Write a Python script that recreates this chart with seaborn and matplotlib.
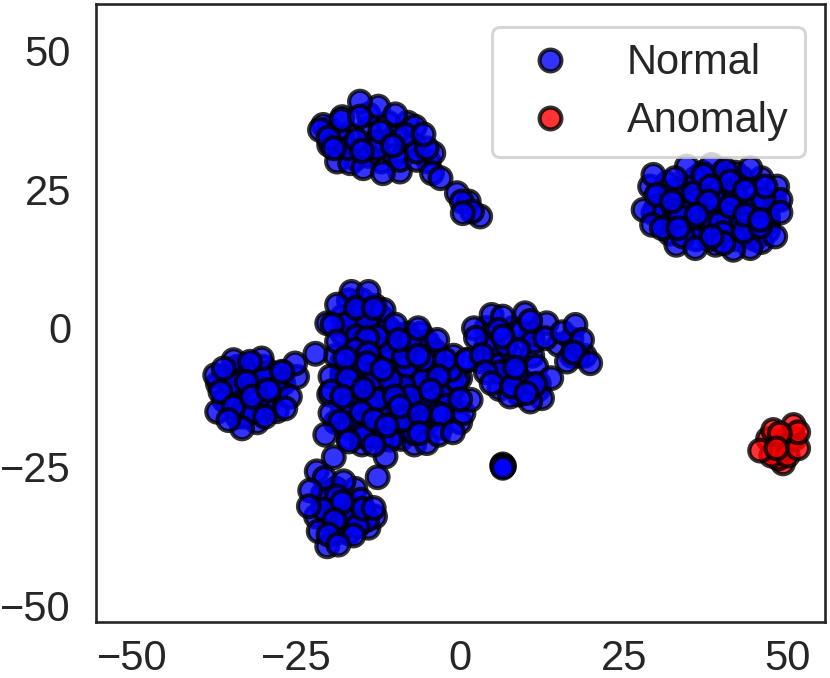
import matplotlib
matplotlib.use("Agg")
import pandas as pd
import seaborn as sns
import matplotlib.pyplot as plt

sns.set_theme(style="white")
plt.rcParams["font.family"] = ["Liberation Sans", "DejaVu Sans"]

# values, back points first
fill_x = [-34, -32, -30, -28, -36, -33, -31, -27, -35, -32, -29, -33, -30,
          -17, -15, -13, -17, -15, -12, -10, -8, -6, -4, -2, -16, -14, -12, -10, -8, -6, -4, -2, 0,
          -18, -15, -13, -11, -9, -7, -5, -3, -1, -17, -15, -13, -11, -9, -7, -4, -2, -16, -14, -10, -8, -6, -3,
          -19, -17, -15, -13, -11, -9, -7, -5, -20, -18, -16, -14, -12, -10, -8, -6, -17, -15, -13, -11, -9, -7,
          30, 33, 36, 39, 42, 45, 48, 31, 34, 37, 40, 43, 46, 32, 35, 38, 41, 44, 47, 33, 36, 39, 42, 45, 37, 40, 43,
          -21, -19, -17, -15, -20, -18, -16, -14, -19, -17,
          4, 6, 8, 3, 5, 7, 6, 8, 10, 12, 9, 11, 15, 17, 19]
fill_y = [-7, -6.5, -7, -9, -9, -9, -10, -8, -13, -11, -10, -14, -15,
          5, 5, 4, 0, 2, 2, -1, -1, -1, -4, -7, -3, -3, -4, -5, -6, -4, -7, -9, -9,
          -8, -9, -6, -8, -7, -8, -8, -10, -8, -12, -12, -11, -11, -11, -12, -10, -12, -15, -17, -14, -12, -15, -14,
          -17, -18, -15, -13, -13, -16, -16, -15, -12, -9, -10, -8, -10, -19, -18, -18, -20, -21, -19, -19, -20, -21,
          24, 25, 25, 25, 26, 25, 23, 21, 21, 22, 23, 22, 21, 17, 19, 18, 21, 19, 19, 15, 23, 15, 17, 16, 28, 28, 27,
          -31, -32, -33, -35, -35, -36, -34, -36, -29, -35,
          -3, -5, -5, -6, -6, -8, -11, -8, -10, -11, -11, -5, -3, -5, -5]

back_x = [-35, -33, -31, -29, -35, -33, -30, -28, -36, -34, -32, -29, -34, -31, -28, -27, -37, -30,
          -18, -16, -13, -11, -9, -7, -5, -5, -2, -1, -3, -2, -7, -9, -11, -13, -16, -18, -17, -14, -12,
          -10, -8, -5, -5, -7, -16, -18, -15, -12, -3, 0, -1, -19, -15, -18, -11, -4,
          -20, -17, -14, -11, -8, -18, -13, -10, -7, -16, -12, -10, -14, -18, -14, -20, -4.8,
          31, 34, 36, 39, 42, 45, 47, 31, 35, 38, 41, 44, 47, 33, 35, 39, 42, 46, 38, 42, 36, 33, 34, 46, 30,
          -19, -16, -21, -19, -17, -13, -22, -19, -15, -17,
          4, 8, 11, 5, 7, 6, 9, 12, 9, 17, 18]
back_y = [-8, -7, -8, -8, -11, -10, -11, -11, -13, -12, -14, -13, -16, -17, -15, -10, -10, -14,
          -1, 1, -1, -2, -4, -3, -2.5, -6, -9, -11, -12, -14, -10, -8, -6, -9, -7, -6, -11, -14, -16,
          -17, -14, -13, -17, -19, -17, -14, -19, -20, -18, -17, -5, -5, 3, 2, 0, -4.5,
          36, 35, 36, 37, 37, 34, 33.5, 34.5, 33, 30.5, 30, 31, 31, 38, 38.5, 33, 30,
          22, 23, 27, 23, 24, 22, 20, 19, 18, 20, 19, 17, 17.5, 25, 21, 27, 28, 27, 16, 16, 16, 20, 16.5, 15.5, 22,
          -29, -29, -30, -33, -37, -34, -34, -37, -33, -32,
          0, 0, -1, -3, -3, -8, -9, -10, -12, -2, -5]

left_x = [-34, -32, -30, -36, -33, -28, -31, -35, -24.9, -25.2, -26, -37.4, -37.1, -34.6, -30.3, -31.6,
          -36.1, -32.1, -32.6, -36.6, -34.6, -31.8, -29.3, -26.7, -27.2, -33.3, -29.8, -35.4]
left_y = [-8, -12, -9, -13, -16, -11, -13, -10, -8.8, -6.4, -12.4, -8.5, -15.1, -5.8, -5.5, -15.1,
          -7.3, -6.1, -9.7, -11.5, -14.2, -12.4, -11.2, -14.5, -7.9, -18.1, -16, -16.6]

mid_x = [-17.3, -14.2, -10.7, -8.1, -5.6, -0.5, -8.6, -12.7, -19.8, -16.8, -10.7, -5.6, -3.5, -8.6, -14.7,
         -10.7, -5.1, 0.5, 1.6, -19.8, -11.7, -15.8, -8.6, -7.6, -1.5, -7.6, -20.3, -12.7,
         -16.6, -14, -18.8, -15.9, -13.2, -19.5, -9.9, -6.4, -3.5, -9.4, -14.2, -18.8, -16, -14, -6.4,
         -14.2, -17.5, -2.3, -11.9, -17.2, -3.3, -4.5, -14.8, -19.7, -18, 0, -10, -9.2, -15.1, -6.2,
         -2.8, -18.3, -13.2, -11.2, -6.2, -3.3, -1.1, -20.6, -17, -11.4, -13.2, -19.3, -12.6, -22.1, 1.05]
mid_y = [0.85, 0.85, -3.95, -6.95, -9.35, -9.35, -10.55, -12.95, -8.75, -14.15, -9.35, -5.75, -15.35, -16.55, -19.55,
         -20.15, -20.75, -15.35, -12.95, -15.35, 3.25, -1.55, -5.15, -2.15, -7.55, -12.35, 0.85, -1.55,
         6.5, 6.5, 4.2, 3.6, 3.6, 0.6, 0.6, -0.05, -2.15, -2.15, -1.85, -2.45, -3.95, -4.55, -5,
         -6.35, -5.45, -5.75, -7.45, -9.05, -8.75, -11.25, -11, -11.45, -12.35, -12.85, -12.35, -14.15, -15.2, -15.5,
         -15.65, -16.85, -16.55, -17.6, -18.95, -19.25, -18.8, -19.25, -20.45, -23.15, -21.05, -23.3, -26.9, -4.65, -5.85]

low_x = [-21.9, -20.7, -17.8, -14.2, -15.2, -18.8, -17.3, -20.8, -21.6, -20.3, -15.7,
         -22.9, -23.1, -18, -14.8, -13.2, -19.2, -20.1, -16.3, -18.6]
low_y = [-25.85, -27.05, -27.65, -34.55, -30.95, -30.35, -34.55, -32.75, -36.65, -39.35, -35.75,
         -29.3, -32.15, -31.4, -32.6, -32.45, -34.65, -37.25, -37.4, -39.05]

side_x = [9.4, 13.2, 11.2, 2.1, 2.4, 4.8, 6.5, 9.9, 10.7, 5.85, 6.5, 8.9, 13, 15.6, 17.6, 18.6, 16.3, 17.3, 19.85,
          1, 3.3, 3.9, 4.8, 11.6, 13.9, 7.6, 7.9, 12.5, 10.7, 8.4, 11.45, 10.1]
side_y = [-0.65, 0.85, -2.45, -0.05, -1.75, 2.35, 2.05, 2.65, 1.27, -0.35, -1.55, -3.95, -1.85, -0.77, 0.55, -2.15, -6.05, -4.4, -6.35,
          -5.75, -4.85, -7.97, -9.95, -6.95, -9.05, -12.35, -10.55, -12.65, -13.25, -7.13, -10.13, -11.75]

top_x = [-18.8, -16.8, -14.8, -9.2, -9.2, -6.6, -6.6, -4.1, -5.1, -12.7, -17.1, -20.9, -21.4, -18.1, -12.5,
         -15.3, -15.3, -9.9, -20.1, -12.2, -6.9, -8.4, -5.6, -19.3, -15.8, -15, -10.3, -11.8,
         -4.3, -3, -0.5, 1.3, 0.25, 3.05, 1.8, 0.4]
top_y = [30, 29.7, 28.8, 28.2, 30.3, 30.3, 31.8, 31.5, 32.4, 32.4, 32.4, 36.6, 35.7, 37.5, 39.9,
         40.8, 38.1, 38.5, 34.3, 35.4, 36.3, 34.8, 34.9, 32.4, 33.9, 31.9, 32.9, 27.9,
         27.9, 27, 24.3, 22.8, 22.8, 20.1, 21, 20.7]

far_x = [34.6, 38.4, 35.6, 48.4, 48.9, 33.6, 39.7, 31.6, 29, 46.3, 29.5, 40.2, 48.1, 44.3, 41.7, 43.3,
         28, 29.5, 32.8, 37.15, 40.5, 44.3, 41.2, 46.6, 43.5, 38.2, 30, 32.3, 37.9, 41.2, 36.1, 48.9, 43.5,
         45.8, 45.8, 29.3, 30.8, 33.3, 35.9, 40.2, 38.4]
far_y = [29.1, 29.4, 24.3, 25.5, 23.1, 20.1, 18.9, 26.1, 25.5, 23.1, 20.7, 17.1, 16.5, 14.4, 14.1, 17.4,
         21.3, 27.6, 27, 27.6, 28.5, 28.8, 26.4, 25.5, 24.9, 25.5, 24, 22.8, 22.8, 21.9, 20.4, 20.8, 20.4,
         18.3, 19.5, 18.6, 18, 18, 14.4, 15.3, 16.5]

dot_x = [6.5, 6.6, 6.4, 6.7, 6.5]
dot_y = [-24.6, -25, -24.8, -24.9, -25.2]

red_x = [49.3, 48.6, 50, 49, 47, 47.5, 50, 51, 50.9, 47.8, 45.8, 51.6, 51.6, 48.8, 48.3]
red_y = [-24.4, -23.5, -20, -22, -20, -23, -23, -20, -17.5, -18.4, -22.1, -21.7, -18.8, -19, -21.7]

normal_x = fill_x + back_x + left_x + mid_x + low_x + side_x + top_x + far_x + dot_x
normal_y = fill_y + back_y + left_y + mid_y + low_y + side_y + top_y + far_y + dot_y
labels = ["Normal"] * len(normal_x) + ["Anomaly"] * len(red_x)

df = pd.DataFrame({"x": normal_x + red_x, "y": normal_y + red_y, "label": labels})

fig, ax = plt.subplots(figsize=(8.3, 6.78), dpi=100)
fig.subplots_adjust(left=96 / 830, right=825 / 830, top=1 - 4 / 678, bottom=1 - 622 / 678)

sns.scatterplot(data=df, x="x", y="y", hue="label", hue_order=["Normal", "Anomaly"],
                palette={"Normal": "blue", "Anomaly": "red"}, s=245, alpha=0.8,
                edgecolor="black", linewidth=3, ax=ax)

ax.set_xlim(-55.6, 55.7)
ax.set_ylim(-53, 58.4)
ax.set_xticks([-50, -25, 0, 25, 50])
ax.set_yticks([-50, -25, 0, 25, 50])
ax.set_xlabel("")
ax.set_ylabel("")
ax.tick_params(axis="x", labelsize=30, pad=6)
ax.tick_params(axis="y", labelsize=30, pad=12)
for spine in ax.spines.values():
    spine.set_linewidth(1.9)

leg = ax.legend(title=None, loc="upper right", fontsize=30, handletextpad=0.85, labelspacing=0.43,
                bbox_to_anchor=(0.9726, 0.9628), borderaxespad=0, borderpad=0.39)
leg.get_frame().set_linewidth(2.2)

plt.savefig("out.png", dpi=100)
plt.close()
